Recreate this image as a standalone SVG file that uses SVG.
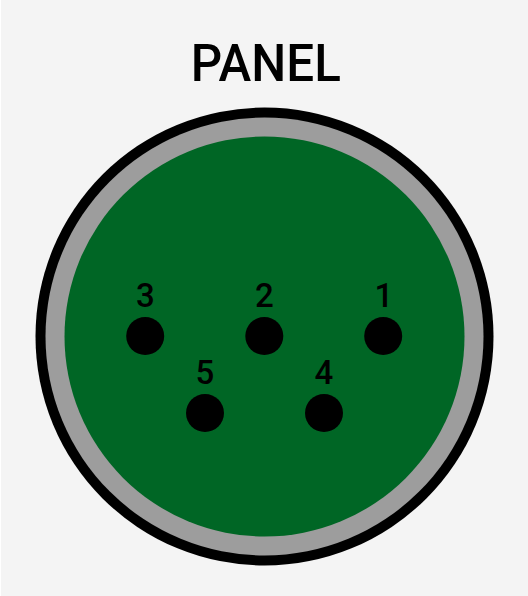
<svg xmlns="http://www.w3.org/2000/svg" width="528" height="596" viewBox="0 0 528 596">
<style>
.t{font-family:"Roboto","DejaVu Sans",sans-serif;fill:#000;text-anchor:middle;font-weight:500}
.n{font-size:33px}
.pin{fill:#000}
</style>
<rect width="528" height="596" fill="#f4f4f4"/>
<rect width="1" height="596" fill="#fff"/>
<g id="connector-body">
<circle cx="264.500" cy="336.500" r="229" fill="#000"/>
<circle cx="264.500" cy="336.500" r="219" fill="#9d9d9d"/>
<circle cx="264.500" cy="336.500" r="200" fill="#006625"/>
</g>
<text class="t" x="265.800" y="80.500" font-size="52" textLength="150" lengthAdjust="spacingAndGlyphs">PANEL</text>
<g id="pin-3"><circle class="pin" cx="145.200" cy="336" r="19"/><text class="t n" x="145.500" y="307">3</text></g>
<g id="pin-2"><circle class="pin" cx="264.300" cy="336" r="19"/><text class="t n" x="264.500" y="307">2</text></g>
<g id="pin-1"><circle class="pin" cx="383.200" cy="336" r="19"/><text class="t n" x="384" y="307">1</text></g>
<g id="pin-5"><circle class="pin" cx="205" cy="413" r="19"/><text class="t n" x="205" y="384">5</text></g>
<g id="pin-4"><circle class="pin" cx="324" cy="413" r="19"/><text class="t n" x="324" y="384">4</text></g>
</svg>
